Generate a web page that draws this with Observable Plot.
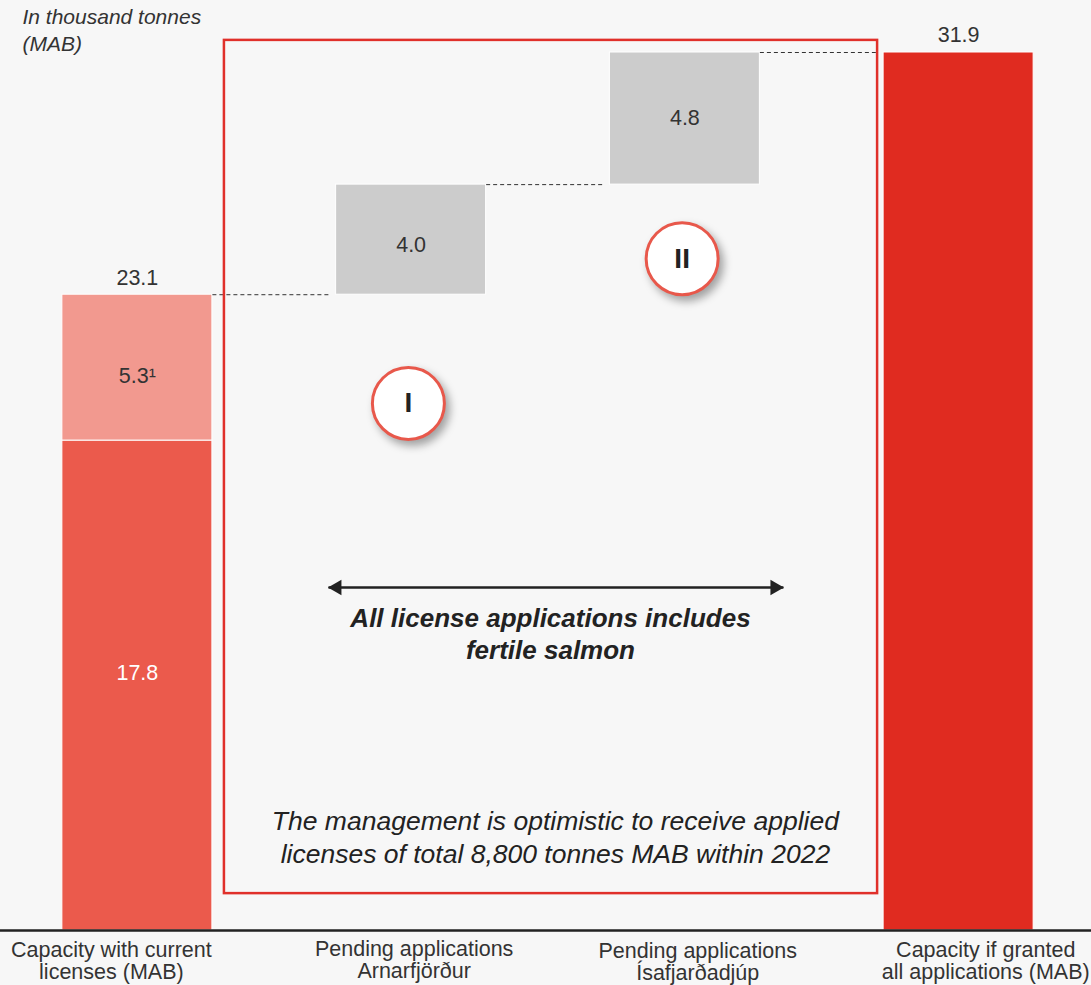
<!DOCTYPE html>
<html>
<head>
<meta charset="utf-8">
<script src="https://cdn.jsdelivr.net/npm/d3@7"></script>
<script src="https://cdn.jsdelivr.net/npm/@observablehq/plot@0.6"></script>
<style>
  body { margin: 0; background: #f7f7f7; }
  .badge { filter: drop-shadow(4px 5px 4px rgba(0, 0, 0, 0.35)); }
</style>
</head>
<body>
<div id="chart"></div>
<script>
// Farming capacity in thousand tonnes MAB
const categories = [
  "Capacity with current\nlicenses (MAB)",
  "Pending applications\nArnarfjörður",
  "Pending applications\nÍsafjarðadjúp",
  "Capacity if granted\nall applications (MAB)"
];
const currentLicensed = 17.8;
const currentPending = 5.3;          // footnote 1
const currentPendingLabel = "5.3¹";
const applications = [4.0, 4.8];     // Arnarfjörður, Ísafjarðadjúp
const totalCurrent = 23.1;
const totalGranted = 31.9;

const colors = {
  licensed: "#eb5a4c",
  pending: "#f2998f",
  application: "#cccccc",
  total: "#e02b20"
};

// Bar segments (waterfall)
const segments = [
  {i: 0, y1: 0, y2: currentLicensed, label: currentLicensed.toFixed(1), fill: colors.licensed, ink: "white"},
  {i: 0, y1: currentLicensed, y2: currentLicensed + currentPending, label: currentPendingLabel, fill: colors.pending, ink: "#333"}
];
let level = totalCurrent;
applications.forEach((v, k) => {
  segments.push({i: k + 1, y1: level, y2: level + v, label: v.toFixed(1), fill: colors.application, ink: "#333"});
  level += v;
});
segments.push({i: 3, y1: 0, y2: totalGranted, label: "", fill: colors.total, ink: "white"});

const totals = [{i: 0, v: totalCurrent}, {i: 3, v: totalGranted}];
const connectors = [
  {i: 0, v: totalCurrent},
  {i: 1, v: totalCurrent + applications[0]},
  {i: 2, v: totalGranted}
];

// Layout tweaks
const hw = 0.274;                          // half bar width in category units
const segmentLabelDy = [-12, 8, 5, 0];     // px nudges for in-bar labels
const categoryShift = [-0.095, 0.011, 0.047, 0.099];
const categoryDy = [11, 10, 12, 11];

// Annotation positions in data units
const boxExtent = {x1: 0.318, x2: 2.704, y1: 1.34, y2: 32.34};
const badges = [{x: 0.99, y: 19.15, label: "I"}, {x: 1.99, y: 24.41, label: "II"}];
const arrowSpan = {x1: 0.698, x2: 2.36, y: 12.46};
const keyNote = {x: 1.509, y: 10.83, text: "All license applications includes\nfertile salmon"};
const outlookNote = {x: 1.527, y: 3.43, text: "The management is optimistic to receive applied\nlicenses of total 8,800 tonnes MAB within 2022"};

const font = "'Liberation Sans', Arial, Helvetica, sans-serif";

const chart = Plot.plot({
  width: 1091,
  height: 985,
  marginTop: 0, marginRight: 0, marginBottom: 0, marginLeft: 0,
  x: {type: "linear", domain: [-0.5, 3.5], range: [0, 1095], axis: null},
  y: {domain: [0, totalGranted], range: [930, 52], axis: null},
  color: {type: "identity"},
  style: {background: "#f7f7f7", fontFamily: font, color: "#333"},
  marks: [
    Plot.rect(segments, {
      x1: d => d.i - hw, x2: d => d.i + hw, y1: "y1", y2: "y2",
      fill: "fill", stroke: "white", strokeWidth: 1
    }),
    segments.filter(d => d.label).map((s, k) =>
      Plot.text([s], {
        x: "i", y: d => (d.y1 + d.y2) / 2, text: "label", fill: "ink",
        fontSize: 21.5, dy: segmentLabelDy[k]
      })
    ),
    Plot.text(totals, {x: "i", y: "v", text: d => d.v.toFixed(1), dy: -17, fontSize: 21.5, fill: "#333"}),
    Plot.link(connectors, {
      x1: d => d.i + hw, x2: d => d.i + 1 - hw - 0.022, y1: "v", y2: "v",
      stroke: "#333", strokeWidth: 1, strokeDasharray: "4,3"
    }),
    Plot.ruleY([0], {stroke: "#222", strokeWidth: 2.5}),
    categories.map((c, i) =>
      Plot.text([c], {
        x: i + categoryShift[i], y: 0, text: d => d, lineAnchor: "top", dy: categoryDy[i],
        fontSize: 21.5, lineHeight: 1.03, fill: "#333"
      })
    ),
    // red outline around the pending applications
    Plot.rect([boxExtent], {x1: "x1", x2: "x2", y1: "y1", y2: "y2", fill: "none", stroke: "#e0302a", strokeWidth: 2.5}),
    // double-headed arrow
    Plot.link([arrowSpan], {x1: "x1", x2: "x2", y1: "y", y2: "y", stroke: "#222", strokeWidth: 2.5}),
    Plot.dot([arrowSpan], {x: "x1", y: "y", symbol: "triangle", r: 5.8, rotate: -90, dx: 8.5, fill: "#222", stroke: "none"}),
    Plot.dot([arrowSpan], {x: "x2", y: "y", symbol: "triangle", r: 5.8, rotate: 90, dx: -8.5, fill: "#222", stroke: "none"}),
    Plot.text([keyNote], {
      x: "x", y: "y", text: "text", fontSize: 26, fontWeight: "bold",
      fontStyle: "italic", lineHeight: 1.23, fill: "#222"
    }),
    Plot.text([outlookNote], {
      x: "x", y: "y", text: "text", fontSize: 26.5,
      fontStyle: "italic", lineHeight: 1.24, fill: "#222"
    }),
    // numbered badges
    Plot.dot(badges, {x: "x", y: "y", r: 36, fill: "white", stroke: "#e8584b", strokeWidth: 3, className: "badge"}),
    Plot.text(badges, {x: "x", y: "y", text: "label", fontSize: 28, fontWeight: "bold", fill: "#222"}),
    // unit note
    Plot.text(["In thousand tonnes\n(MAB)"], {
      frameAnchor: "top-left", text: d => d, dx: 22, dy: 4, textAnchor: "start",
      lineAnchor: "top", fontSize: 21, fontStyle: "italic", lineHeight: 1.3, fill: "#333"
    })
  ]
});

document.getElementById("chart").appendChild(chart);
</script>
</body>
</html>
